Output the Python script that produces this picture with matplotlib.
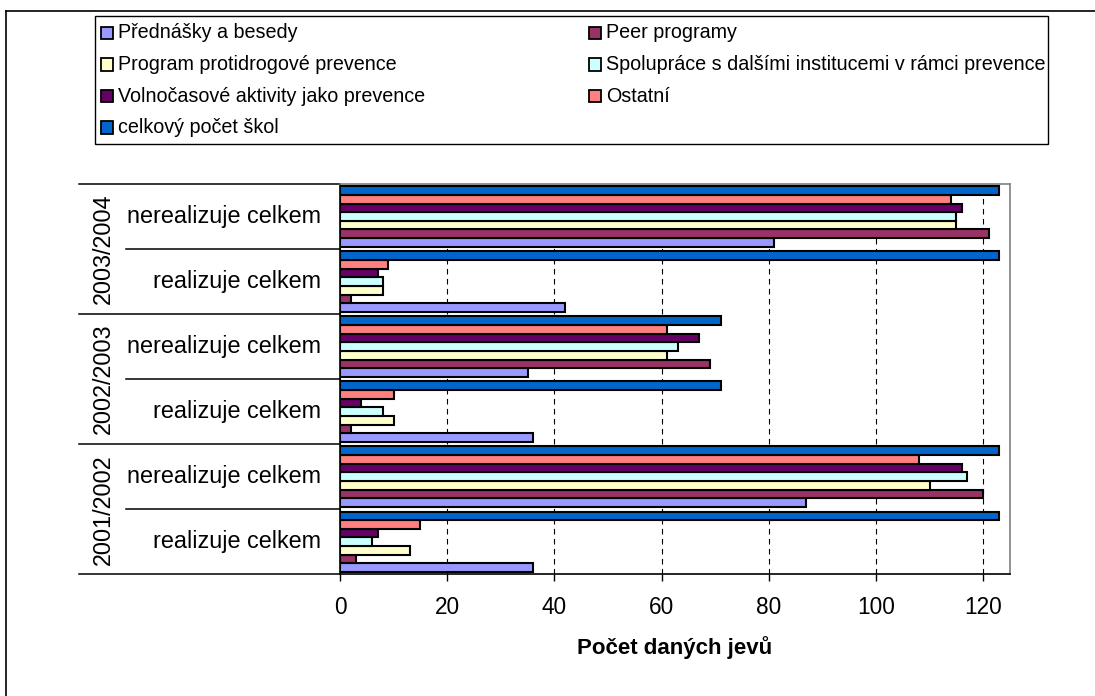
import matplotlib
matplotlib.use("Agg")
import matplotlib.pyplot as plt
import matplotlib.transforms as mtrans
from matplotlib.patches import Rectangle
from matplotlib.lines import Line2D

plt.rcParams['font.family'] = ['Liberation Sans', 'DejaVu Sans']

# ---- data (categories listed bottom -> top) ----
years = ["2001/2002", "2002/2003", "2003/2004"]
subcats = ["realizuje celkem", "nerealizuje celkem"]

series_names = [
    "Přednášky a besedy",
    "Peer programy",
    "Program protidrogové prevence",
    "Spolupráce s dalšími institucemi v rámci prevence",
    "Volnočasové aktivity jako prevence",
    "Ostatní",
    "celkový počet škol",
]
prednasky = [36, 87, 36, 35, 42, 81]
peer = [3, 120, 2, 69, 2, 121]
program = [13, 110, 10, 61, 8, 115]
spoluprace = [6, 117, 8, 63, 8, 115]
volnocasove = [7, 116, 4, 67, 7, 116]
ostatni = [15, 108, 10, 61, 9, 114]
celkovy = [123, 123, 71, 71, 123, 123]
series_values = [prednasky, peer, program, spoluprace, volnocasove, ostatni, celkovy]
colors = ["#9999FF", "#993366", "#FFFFCC", "#CCFFFF", "#660066", "#FF8080", "#0066CC"]
xticks = [0, 20, 40, 60, 80, 100, 120]

W, H = 1095, 696
fig = plt.figure(figsize=(W / 100, H / 100), dpi=100)

# outer chart border (top and left visible)
fig.add_artist(Line2D([6 / W, 1.0], [1 - 11 / H, 1 - 11 / H], color="black", lw=1.2))
fig.add_artist(Line2D([6 / W, 6 / W], [0, 1 - 11 / H], color="black", lw=1.2))

left_px, right_px, top_px, bot_px = 340, 1010, 184, 574.3
ax = fig.add_axes([left_px / W, (H - bot_px) / H, (right_px - left_px) / W, (bot_px - top_px) / H])

ncat = len(years) * len(subcats)
nser = len(series_names)
group = 0.93
h = group / nser
for j, (vals, col) in enumerate(zip(series_values, colors)):
    ys = [c - group / 2 + h * (j + 0.5) for c in range(ncat)]
    ax.barh(ys, vals, height=h, color=col, edgecolor="black", linewidth=1.5, zorder=3)

ax.set_xlim(0, 125)
ax.set_ylim(-0.5, ncat - 0.5)
ax.set_xticks(xticks)
ax.set_xticklabels([str(t) for t in xticks], fontsize=16.3)
ax.tick_params(axis="x", direction="out", length=5, width=1, pad=10.5, colors="black")
ax.set_yticks([])
ax.xaxis.grid(True, color="black", linestyle=(0, (5, 4)), linewidth=0.8)
ax.set_axisbelow(True)
for s in ["top", "right"]:
    ax.spines[s].set_color("#808080")
    ax.spines[s].set_linewidth(1.2)
for s in ["left", "bottom"]:
    ax.spines[s].set_color("black")
    ax.spines[s].set_linewidth(1.2)

ax.set_xlabel("Počet daných jevů", fontsize=16, fontweight="bold", va="center")
ax.xaxis.set_label_coords(0.5, -(648 - bot_px) / (bot_px - top_px))

# multi-level category labels
aw = right_px - left_px
tr = mtrans.blended_transform_factory(ax.transAxes, ax.transData)
c = 0
for yi, yr in enumerate(years):
    for si, sc in enumerate(subcats):
        ax.text(-19 / aw, c, sc, transform=tr, ha="right", va="center", fontsize=16.8)
        c += 1
    ymid = yi * 2 + 0.5
    ax.text(-(340 - 103) / aw, ymid, yr, transform=tr, ha="center", va="center",
            rotation=90, fontsize=16.8)
# separators
for k in range(ncat + 1):
    yb = k - 0.5
    if k % 2 == 0:
        x0 = -(340 - 79) / aw
    else:
        x0 = -(340 - 126) / aw
    ax.add_line(Line2D([x0, 0], [yb, yb], transform=tr, color="black", lw=1.1, clip_on=False))

# legend box (manual, 2 columns, row-wise order)
fig.add_artist(Rectangle((95 / W, 1 - 144 / H), (1048 - 95) / W, (144 - 16) / H,
                         transform=fig.transFigure, fill=False, edgecolor="black", lw=1.0))
col_x = [101, 589]
row_y0, row_dy = 33, 31.5
sq = 12
for i, (name, col) in enumerate(zip(series_names, colors)):
    cx = col_x[i % 2]
    cy = row_y0 + (i // 2) * row_dy
    fig.add_artist(Rectangle((cx / W, 1 - (cy + sq / 2) / H), sq / W, sq / H,
                             transform=fig.transFigure, facecolor=col, edgecolor="black", lw=1.3))
    fig.text((cx + sq + 5) / W, 1 - cy / H, name, ha="left", va="center", fontsize=14.2)

fig.savefig("out.png", dpi=100)
